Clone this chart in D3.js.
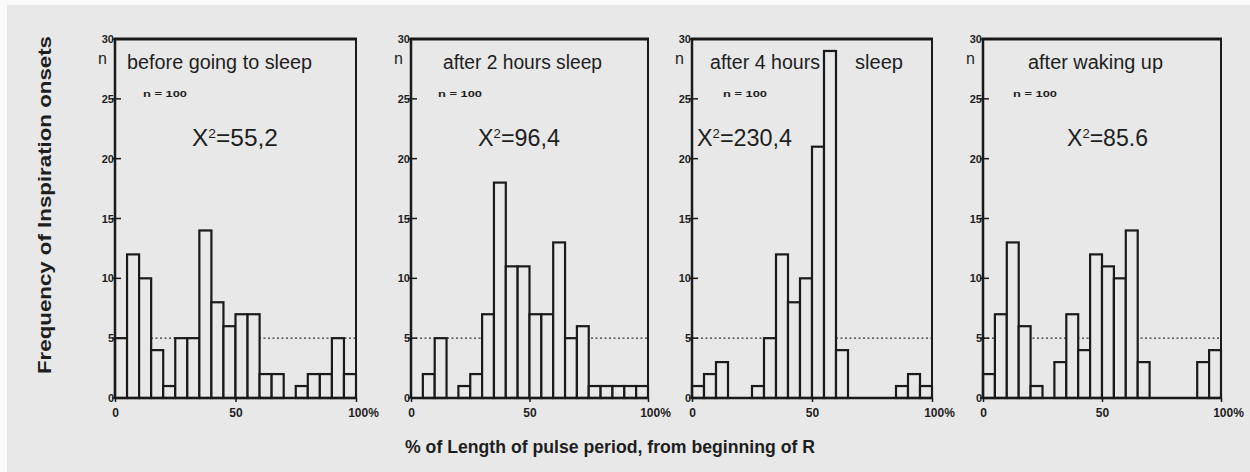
<!DOCTYPE html>
<html><head><meta charset="utf-8">
<script src="https://cdn.jsdelivr.net/npm/d3@7"></script>
<style>
html,body{margin:0;padding:0;background:#fff;}
svg{display:block;}
text{font-family:"Liberation Sans Narrow","Liberation Sans",Arial,sans-serif;fill:#1e1e1e;}
</style></head>
<body>
<svg id="chart" width="1250" height="472"></svg>
<script>
// ---- data ----
const binStarts = [0,5,10,15,20,25,30,35,40,45,50,55,60,65,70,75,80,85,90,95];
const beforeSleep = [5,12,10,4,1,5,5,14,8,6,7,7,2,2,0,1,2,2,5,2];
const after2h     = [0,2,5,0,1,2,7,18,11,11,7,7,13,5,6,1,1,1,1,1];
const after4h     = [1,2,3,0,0,1,5,12,8,10,21,29,4,0,0,0,0,1,2,1];
const afterWake   = [2,7,13,6,1,0,3,7,4,12,11,10,14,3,0,0,0,0,3,4];
const panelTitles = ["before going to sleep","after 2 hours sleep","after 4 hours","after waking up"];
const chiLabels   = ["55,2","96,4","230,4","85.6"];
const nLabel = "n = 100";
const yTicks = [0,5,10,15,20,25,30];
const xTicks = [0,50,100];
const xTickLabels = ["0","50","100%"];
const refLevel = 5;
const yTitle = "Frequency of Inspiration onsets";
const xTitle = "% of Length of pulse period, from beginning of R";

const series = [beforeSleep, after2h, after4h, afterWake];

// ---- layout ----
const svg = d3.select("#chart");
const bg = "#e8e8e8", ink = "#1a1a1a";
svg.append("rect").attr("width",1250).attr("height",472).attr("fill","#fafafa");
svg.append("rect").attr("x",7).attr("y",5).attr("width",1243).attr("height",467).attr("fill",bg);

const lefts = [115, 411, 692, 983];
const widths = [241, 237, 240, 238];
const plotTop = 39, plotBottom = 398;
const y = d3.scaleLinear().domain([0,30]).range([plotBottom, plotTop]);

const titleGeo = [
  {x:127, w:185}, {x:443, w:159}, {x:710, w:110}, {x:1028, w:135}
];
const chiGeo = [{x:192,w:86},{x:478,w:82},{x:697,w:95},{x:1067,w:81}];
const nGeo = [143, 438, 723, 1013];

series.forEach((vals, p) => {
  const x0 = lefts[p], w = widths[p];
  const x = d3.scaleLinear().domain([0,100]).range([x0, x0+w]);
  const g = svg.append("g");

  g.append("line").attr("x1",x(0)).attr("x2",x(100))
    .attr("y1",y(refLevel)).attr("y2",y(refLevel))
    .attr("stroke","#333").attr("stroke-width",1.4).attr("stroke-dasharray","2,2.5");

  const data = binStarts.map((b,i)=>({b, v: vals[i]}));
  g.selectAll("rect.bar").data(data.filter(d=>d.v>0)).join("rect")
    .attr("class","bar")
    .attr("x", d=>x(d.b)).attr("width", d=>x(d.b+5)-x(d.b))
    .attr("y", d=>y(d.v)).attr("height", d=>y(0)-y(d.v))
    .attr("fill", bg).attr("stroke", ink).attr("stroke-width", 2.2);

  g.append("line").attr("x1",x(0)-1).attr("x2",x(100)+1).attr("y1",y(30)).attr("y2",y(30))
    .attr("stroke",ink).attr("stroke-width",3);
  g.append("line").attr("x1",x(100)).attr("x2",x(100)).attr("y1",y(30)).attr("y2",y(0))
    .attr("stroke",ink).attr("stroke-width",2);
  g.append("line").attr("x1",x(0)).attr("x2",x(100)).attr("y1",y(0)).attr("y2",y(0))
    .attr("stroke",ink).attr("stroke-width",2.5);
  g.append("line").attr("x1",x(0)).attr("x2",x(0)).attr("y1",y(30)).attr("y2",y(0))
    .attr("stroke",ink).attr("stroke-width",2.5);

  const ya = d3.axisLeft(y).tickValues(yTicks).tickSize(0).tickPadding(1);
  const yag = g.append("g").attr("transform",`translate(${x(0)},0)`).call(ya);
  yag.select(".domain").remove();
  yag.selectAll("text").style("font-size","11px").style("font-weight","bold")
    .style("font-family","'Liberation Sans',Arial,sans-serif").attr("fill",ink);
  yTicks.forEach(t=>{
    g.append("line").attr("x1",x(0)-3).attr("x2",x(0)+6).attr("y1",y(t)).attr("y2",y(t))
      .attr("stroke",ink).attr("stroke-width",1.5);
  });

  const xa = d3.axisBottom(x).tickValues(xTicks).tickSize(4).tickPadding(6)
    .tickFormat((d,i)=>xTickLabels[i]);
  const xag = g.append("g").attr("transform",`translate(0,${y(0)})`).call(xa);
  xag.select(".domain").remove();
  xag.selectAll("line").attr("stroke",ink).attr("stroke-width",1.5);
  xag.selectAll("text").style("font-size","12px").style("font-weight","bold")
    .style("font-family","'Liberation Sans',Arial,sans-serif").attr("fill",ink);
  xag.selectAll(".tick").filter((d)=>d===100).select("text").attr("dx","7");

  g.append("text").attr("x",x(0)-17).attr("y",64).text("n")
    .style("font-size","16px");

  g.append("text").attr("x",titleGeo[p].x).attr("y",69)
    .attr("textLength",titleGeo[p].w).attr("lengthAdjust","spacingAndGlyphs")
    .style("font-size","20px").text(panelTitles[p]);
  if (p===2) {
    g.append("text").attr("x",855).attr("y",69)
      .attr("textLength",48).attr("lengthAdjust","spacingAndGlyphs")
      .style("font-size","20px").text("sleep");
  }

  g.append("text").attr("x",nGeo[p]).attr("y",97)
    .attr("textLength",44).attr("lengthAdjust","spacingAndGlyphs")
    .style("font-size","9px").style("font-weight","bold").text(nLabel);

  const ct = g.append("text").attr("x",chiGeo[p].x).attr("y",146)
    .attr("textLength",chiGeo[p].w).attr("lengthAdjust","spacingAndGlyphs")
    .style("font-size","23px");
  ct.append("tspan").text("X");
  ct.append("tspan").attr("dy",-8).style("font-size","13px").text("2");
  ct.append("tspan").attr("dy",8).text("=" + chiLabels[p]);
});

svg.append("text").attr("transform","translate(51,205) rotate(-90)")
  .attr("text-anchor","middle").attr("textLength",338).attr("lengthAdjust","spacingAndGlyphs")
  .style("font-size","18px").style("font-weight","bold")
  .style("font-family","'Liberation Sans',Arial,sans-serif").text(yTitle);
svg.append("text").attr("x",405).attr("y",453)
  .attr("textLength",410).attr("lengthAdjust","spacingAndGlyphs")
  .style("font-size","18px").style("font-weight","bold")
  .style("font-family","'Liberation Sans',Arial,sans-serif").text(xTitle);
</script>
</body></html>
